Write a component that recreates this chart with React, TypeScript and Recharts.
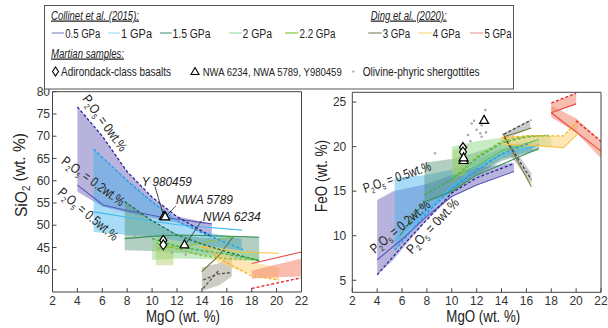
import React from 'react'
import { ComposedChart, Area, Line, Scatter, XAxis, YAxis, ReferenceLine } from 'recharts'

const FONT = "'Liberation Sans Narrow', 'Arial Narrow', 'Liberation Sans', Arial, sans-serif"

const mgoTicks = [2, 4, 6, 8, 10, 12, 14, 16, 18, 20, 22]
const sio2Ticks = [40, 45, 50, 55, 60, 65, 70, 75, 80]
const feoTicks = [5, 10, 15, 20, 25]

const legendLabels = ['0.5 GPa', '1 GPa', '1.5 GPa', '2 GPa', '2.2 GPa', '3 GPa', '4 GPa', '5 GPa']

// ---- SiO2 vs MgO ----
const si05Band = [
  { x: 4, r: [57.5, 76.6] }, { x: 6, r: [54.2, 70] }, { x: 8, r: [52.8, 62] },
  { x: 10, r: [51.6, 56.3] }, { x: 12, r: [50.6, 52] }, { x: 14.8, r: [47.4, 50.3] },
]
const si05Dash = [{ x: 4, y: 76.6 }, { x: 6, y: 70 }, { x: 8, y: 62 }, { x: 10, y: 56.3 }, { x: 12, y: 51.9 }, { x: 14.8, y: 47.4 }]
const si05Solid = [{ x: 4, y: 59 }, { x: 6.1, y: 54.5 }, { x: 8, y: 53.3 }, { x: 10.6, y: 51.9 }, { x: 14.8, y: 50.3 }]

const si1Band = [
  { x: 5.3, r: [48.5, 67.1] }, { x: 8, r: [47.8, 60.2] }, { x: 10, r: [47.5, 55.5] },
  { x: 12, r: [46.5, 51.2] }, { x: 14, r: [45.5, 48.6] }, { x: 17.2, r: [44.3, 47] },
]
const si1Dash = [{ x: 5.3, y: 67.1 }, { x: 8, y: 60 }, { x: 10, y: 55.2 }, { x: 12, y: 51 }, { x: 14, y: 48.3 }, { x: 17.3, y: 44.5 }]
const si1Solid = [{ x: 5.3, y: 53 }, { x: 8, y: 51.8 }, { x: 12, y: 50.1 }, { x: 17.2, y: 48.9 }]

const si15Band = [
  { x: 7.8, r: [44.4, 55.3] }, { x: 10, r: [44.2, 51] }, { x: 12, r: [43.8, 48] },
  { x: 14, r: [43.3, 47.2] }, { x: 16, r: [42.8, 47.2] }, { x: 18.6, r: [42, 47.3] },
]
const si15Dash = [{ x: 7.8, y: 55.3 }, { x: 10, y: 51 }, { x: 12, y: 47.8 }, { x: 14, y: 45.8 }, { x: 16, y: 44 }, { x: 18.6, y: 42 }]
const si15Solid = [{ x: 7.8, y: 47 }, { x: 10, y: 47.5 }, { x: 12, y: 47.8 }, { x: 15, y: 47.6 }, { x: 18.6, y: 47.3 }]

const si2Band = [
  { x: 10, r: [42.2, 47.2] }, { x: 12, r: [42.5, 46.5] }, { x: 14, r: [42.4, 45.5] },
  { x: 16, r: [42.2, 44.5] }, { x: 18.6, r: [41.8, 44] },
]
const si2Dash = [{ x: 10, y: 47 }, { x: 12, y: 45.3 }, { x: 14, y: 44.3 }, { x: 16, y: 43.5 }, { x: 18.6, y: 42.2 }]

const si22Band = [{ x: 10.3, r: [41, 45.5] }, { x: 11.7, r: [41, 45] }]
const si22Dash = [{ x: 10.3, y: 46 }, { x: 12, y: 44.7 }, { x: 14, y: 43.2 }, { x: 16, y: 42.5 }, { x: 18.5, y: 42.2 }]
const si22Solid = [{ x: 10.4, y: 44.8 }, { x: 13, y: 45.5 }, { x: 16.5, y: 47.4 }]

const si3Band = [{ x: 14, r: [35.2, 40.5] }, { x: 15.4, r: [36.5, 41.5] }, { x: 16.4, r: [38.5, 43] }]
const si3Dash = [{ x: 14.1, y: 37.7 }, { x: 15.2, y: 39 }, { x: 16.4, y: 39.4 }]
const si3Dash2 = [{ x: 14.1, y: 35.8 }, { x: 15.4, y: 40 }]
const si3Solid = [{ x: 14, y: 39.6 }, { x: 15.3, y: 43 }, { x: 16.5, y: 47.4 }]

const si4Band = [{ x: 15, r: [42, 44.5] }, { x: 17, r: [39.8, 42.3] }, { x: 20.2, r: [37.5, 40.5] }]
const si4Dash = [{ x: 14, y: 45.3 }, { x: 16, y: 41.6 }, { x: 18, y: 38.6 }, { x: 20.2, y: 37.7 }]
const si4Solid = [{ x: 13.9, y: 45.2 }, { x: 17, y: 44 }, { x: 20.2, y: 43.7 }]

const si5Band = [{ x: 18, r: [38, 39.8] }, { x: 20, r: [38.3, 41.2] }, { x: 22, r: [38.5, 42.5] }]
const si5Dash = [{ x: 18, y: 35.8 }, { x: 22, y: 38.2 }]
const si5Solid = [{ x: 18, y: 41.4 }, { x: 22, y: 44 }]

const adirondackSi = [{ x: 10.9, y: 46.6 }, { x: 10.9, y: 45.6 }]
const nwaSi = [{ x: 10.95, y: 52.1 }, { x: 11.05, y: 52 }, { x: 12.6, y: 45.7 }]
const shergSi = [{ x: 8.6, y: 47.6 }, { x: 11.6, y: 43.8 }, { x: 12.7, y: 43.4 }]
const pointersSi = [
  [{ x: 10.23, y: 58.7 }, { x: 10.9, y: 52.4 }],
  [{ x: 11.9, y: 54.3 }, { x: 11.17, y: 52.2 }],
  [{ x: 13.98, y: 51.0 }, { x: 12.78, y: 46.1 }],
]

// ---- FeO vs MgO ----
const fe05Band = [
  { x: 4, r: [5.6, 14] }, { x: 5.3, r: [7.3, 15] }, { x: 8, r: [11.8, 15.8] },
  { x: 10, r: [14.4, 16.8] }, { x: 12, r: [15.7, 17.6] }, { x: 15, r: [17.2, 18.2] },
]
const fe05Dash = [{ x: 4, y: 5.6 }, { x: 6, y: 8.8 }, { x: 8, y: 11.8 }, { x: 10, y: 14.8 }, { x: 12, y: 16.5 }, { x: 15, y: 18.1 }]
const fe05Solid = [{ x: 4, y: 7.3 }, { x: 6, y: 9.6 }, { x: 8, y: 12.2 }, { x: 10, y: 14.4 }, { x: 12, y: 15.7 }, { x: 15, y: 17.2 }]

const fe1Band = [
  { x: 5.4, r: [8.4, 16.5] }, { x: 7.8, r: [12, 16.8] }, { x: 10, r: [15, 17.4] },
  { x: 12, r: [16.8, 18.6] }, { x: 14, r: [18.6, 19.8] }, { x: 16.5, r: [19.5, 20.5] },
]
const fe1Dash = [{ x: 5.4, y: 8.4 }, { x: 6, y: 9.3 }, { x: 8, y: 12.6 }, { x: 10, y: 15.3 }, { x: 12, y: 17.3 }, { x: 14, y: 19.2 }, { x: 16.3, y: 20.4 }]
const fe1Solid = [{ x: 5.4, y: 9.4 }, { x: 8, y: 12.9 }, { x: 10, y: 15.5 }, { x: 12, y: 17.7 }, { x: 14, y: 19.1 }, { x: 17, y: 20.2 }]

const fe15Band = [
  { x: 7.8, r: [13.6, 18.2] }, { x: 10, r: [14.8, 18.6] }, { x: 12, r: [16.8, 19.4] },
  { x: 14, r: [18.4, 20.2] }, { x: 17, r: [19.6, 20.6] },
]
const fe15Solid = [{ x: 5.8, y: 10 }, { x: 7.8, y: 13.8 }, { x: 10, y: 15 }, { x: 12, y: 16.8 }, { x: 14, y: 18 }, { x: 17, y: 19.8 }]

const fe2Band = [
  { x: 10, r: [16.8, 20] }, { x: 12, r: [17.8, 20.6] }, { x: 14, r: [19.2, 21] },
  { x: 16.5, r: [20, 21.3] }, { x: 18, r: [20, 21.2] },
]
const fe2Dash = [{ x: 7.8, y: 14.6 }, { x: 10, y: 16.3 }, { x: 12, y: 18.7 }, { x: 14, y: 20.4 }, { x: 16, y: 21.1 }, { x: 17.8, y: 21.3 }]
const fe2Solid = [{ x: 10, y: 16.6 }, { x: 12, y: 17.8 }, { x: 14, y: 19.5 }, { x: 17, y: 20.8 }]

const fe22Band = [{ x: 10.1, r: [16.6, 19.6] }, { x: 11.2, r: [16.8, 20] }]
const fe22Dash = [{ x: 10, y: 16 }, { x: 12, y: 18.9 }, { x: 14, y: 20.6 }, { x: 16, y: 21.2 }, { x: 18, y: 21.2 }]

const fe3BandA = [{ x: 14.2, r: [20.8, 21.5] }, { x: 16.3, r: [22, 23] }]
const fe3BandB = [{ x: 14.6, r: [19.2, 20.6] }, { x: 16.4, r: [15.8, 17] }]
const fe3DashA = [{ x: 14.2, y: 21.4 }, { x: 16.4, y: 23 }]
const fe3DashB = [{ x: 14.2, y: 21.1 }, { x: 16.4, y: 16.3 }]
const fe3SolidA = [{ x: 14.2, y: 21.1 }, { x: 16.4, y: 22.1 }]
const fe3SolidB = [{ x: 14.1, y: 21.5 }, { x: 16.4, y: 15.5 }]

const fe4Band = [{ x: 14, r: [20.3, 21.1] }, { x: 17, r: [20, 21.2] }, { x: 19, r: [19.8, 21.2] }, { x: 20.1, r: [21.5, 22.9] }]
const fe4Dash = [{ x: 14, y: 21 }, { x: 16, y: 21.2 }, { x: 19, y: 21.2 }, { x: 20.1, y: 22.9 }]
const fe4Solid = [{ x: 14, y: 20.3 }, { x: 17, y: 20.1 }, { x: 19, y: 19.9 }, { x: 20.1, y: 21.4 }]

const fe5BandTop = [{ x: 18, r: [23.8, 24.9] }, { x: 20, r: [24.8, 26] }]
const fe5BandDiag = [{ x: 18, r: [23.3, 24.6] }, { x: 20, r: [21.6, 23.2] }, { x: 22, r: [18.7, 20.7] }]
const fe5DashTop = [{ x: 18, y: 24.9 }, { x: 20, y: 26 }]
const fe5DashDiag = [{ x: 20, y: 22.9 }, { x: 22, y: 20.6 }]
const fe5SolidTop = [{ x: 18, y: 23.8 }, { x: 20, y: 24.8 }]
const fe5SolidDiag = [{ x: 18, y: 23.8 }, { x: 22, y: 19.5 }]

const adirondackFe = [{ x: 10.9, y: 19.9 }, { x: 10.9, y: 19.4 }]
const nwaFe = [{ x: 10.95, y: 18.5 }, { x: 10.95, y: 18.8 }, { x: 12.6, y: 23 }]
const shergFe = [
  { x: 8.65, y: 19.25 }, { x: 11.6, y: 22.6 }, { x: 11.8, y: 22.9 }, { x: 12, y: 21.9 },
  { x: 12.3, y: 21.5 }, { x: 12.75, y: 21.6 }, { x: 12.4, y: 21.1 }, { x: 11.5, y: 20.6 },
  { x: 11.2, y: 20 }, { x: 12.7, y: 24.1 }, { x: 12.4, y: 22.4 }, { x: 11.3, y: 21.3 },
]

const S: Record<string, { fill: string; op: number; dash: string; line: string }> = {
  p05: { fill: '#8c84c6', op: 0.62, dash: '#25259a', line: '#5656b8' },
  p1: { fill: '#3fb2ec', op: 0.45, dash: '#1a9ee6', line: '#45b9f0' },
  p15: { fill: '#4a8c6c', op: 0.42, dash: '#1d6e3e', line: '#35955a' },
  p2: { fill: '#90d888', op: 0.5, dash: '#35b043', line: '#5cc262' },
  p22: { fill: '#a8cc60', op: 0.45, dash: '#86bd2c', line: '#8cc43a' },
  p3: { fill: '#9c9c8c', op: 0.5, dash: '#55554a', line: '#707a34' },
  p3g: { fill: '#9a9a9a', op: 0.5, dash: '#444444', line: '#707a34' },
  p4: { fill: '#ffd27a', op: 0.55, dash: '#f7b21c', line: '#f8c244' },
  p5: { fill: '#f2866e', op: 0.55, dash: '#e51e1e', line: '#eb4747' },
}
const legendColors = ['#9096d6', '#a6e2f2', '#62a88c', '#a4e0ae', '#8fc84e', '#8c9670', '#f9d98e', '#f5a6a6']

const diamond = (p: any) => (
  <polygon points={`${p.cx},${p.cy - 5} ${p.cx + 3.5},${p.cy} ${p.cx},${p.cy + 5} ${p.cx - 3.5},${p.cy}`} fill="#fff" stroke="#000" strokeWidth={1.2} />
)
const triangle = (p: any) => (
  <polygon points={`${p.cx},${p.cy - 4.5} ${p.cx + 4.5},${p.cy + 3.5} ${p.cx - 4.5},${p.cy + 3.5}`} fill="#fff" stroke="#000" strokeWidth={1.2} />
)
const dot = (p: any) => <circle cx={p.cx} cy={p.cy} r={1.3} fill="#aaaaaa" />

type Panel = {
  width: number
  margin: { top: number; right: number; bottom: number; left: number }
  yDomain: [number, number]
  yTicks: number[]
  yTickMargin: number
  bands: [any[], string][]
  dashed: [any[], string][]
  solid: [any[], string][]
  diamonds: any[]
  triangles: any[]
  dots: any[]
  pointers?: any[][]
}

const axisStyle = { stroke: '#444' }
const tickStyle = { fontSize: 12, fill: '#333', fontFamily: FONT }

const Plot = (p: Panel) => (
  <ComposedChart width={p.width} height={328} margin={p.margin}>
    <XAxis xAxisId={0} dataKey="x" type="number" domain={[2, 22]} ticks={mgoTicks} allowDataOverflow
      tickSize={-4} tickMargin={8} height={20} axisLine={axisStyle} tickLine={axisStyle} tick={tickStyle} />
    <XAxis xAxisId="top" orientation="top" type="number" domain={[2, 22]} ticks={mgoTicks} allowDataOverflow
      tickSize={-4} height={1} axisLine={axisStyle} tickLine={axisStyle} tick={false} />
    <YAxis yAxisId={0} type="number" domain={p.yDomain} ticks={p.yTicks} allowDataOverflow
      tickSize={-4} tickMargin={p.yTickMargin} width={40} axisLine={axisStyle} tickLine={axisStyle} tick={tickStyle} />
    <YAxis yAxisId="right" orientation="right" type="number" domain={p.yDomain} ticks={p.yTicks} allowDataOverflow
      tickSize={-4} width={1} axisLine={axisStyle} tickLine={axisStyle} tick={false} />
    {p.bands.map(([d, k], i) => (
      <Area key={'b' + i} data={d} dataKey="r" type="linear" stroke="none" fill={S[k].fill} fillOpacity={S[k].op}
        dot={false} activeDot={false} isAnimationActive={false} />
    ))}
    {p.solid.map(([d, k], i) => (
      <Line key={'s' + i} data={d} dataKey="y" type="linear" stroke={S[k].line} strokeWidth={1.1}
        dot={false} activeDot={false} isAnimationActive={false} />
    ))}
    {p.dashed.map(([d, k], i) => (
      <Line key={'d' + i} data={d} dataKey="y" type="linear" stroke={S[k].dash} strokeWidth={1.3} strokeDasharray="3 2"
        dot={false} activeDot={false} isAnimationActive={false} />
    ))}
    {(p.pointers || []).map((seg, i) => (
      <ReferenceLine key={'p' + i} segment={seg} stroke="#333" strokeWidth={0.9} />
    ))}
    <Scatter data={p.dots} dataKey="y" shape={dot} isAnimationActive={false} />
    <Scatter data={p.diamonds} dataKey="y" shape={diamond} isAnimationActive={false} />
    <Scatter data={p.triangles} dataKey="y" shape={triangle} isAnimationActive={false} />
  </ComposedChart>
)

const Sub = ({ t }: { t: string }) => <tspan fontSize="0.62em" dy="0.3em">{t}</tspan>

const P2O5 = ({ cx, cy, a, len, v }: { cx: number; cy: number; a: number; len: number; v: string }) => (
  <text transform={`translate(${cx},${cy}) rotate(${a})`} textAnchor="middle" fontSize={13.5} fill="#222"
    textLength={len} lengthAdjust="spacingAndGlyphs">
    <tspan dy="0.35em">P</tspan><tspan fontSize={8} dy={3}>2</tspan><tspan dy={-3}>O</tspan>
    <tspan fontSize={8} dy={3}>5</tspan><tspan dy={-3}>{` = ${v}wt.%`}</tspan>
  </text>
)

const legendPos = [
  [51.7, 64, 65.3, 35], [108.3, 120, 121, 31], [160, 171.7, 172.5, 38], [229.3, 241.7, 242.5, 29.5],
  [285, 298.3, 299.5, 36], [368.3, 381.7, 382.7, 27.5], [418.3, 431.7, 432.7, 27.5], [470, 483.3, 484.5, 27],
]

const Overlay = () => (
  <svg width={608} height={328} style={{ position: 'absolute', left: 0, top: 0, pointerEvents: 'none' }} fontFamily={FONT}>
    <rect x={44.5} y={5.5} width={469} height={83.5} fill="#fff" stroke="#555" strokeWidth={1} />
    <g fontSize={12.5} fill="#222">
      <text x={51} y={19.5} fontStyle="italic" textDecoration="underline" textLength={88} lengthAdjust="spacingAndGlyphs">Collinet et al. (2015):</text>
      <text x={370.7} y={19.5} fontStyle="italic" textDecoration="underline" textLength={76} lengthAdjust="spacingAndGlyphs">Ding et al. (2020):</text>
      {legendLabels.map((l, i) => (
        <g key={l}>
          <line x1={legendPos[i][0]} x2={legendPos[i][1]} y1={33} y2={33} stroke={legendColors[i]} strokeWidth={1.3} />
          <text x={legendPos[i][2]} y={37.5} textLength={legendPos[i][3]} lengthAdjust="spacingAndGlyphs">{l}</text>
        </g>
      ))}
      <text x={51} y={57.5} fontStyle="italic" textDecoration="underline" textLength={73} lengthAdjust="spacingAndGlyphs">Martian samples:</text>
      <polygon points="55.5,67 58.5,71.5 55.5,76 52.5,71.5" fill="#fff" stroke="#000" strokeWidth={1.1} />
      <text x={61} y={75.5} textLength={110} lengthAdjust="spacingAndGlyphs">Adirondack-class basalts</text>
      <polygon points="195,67.5 199,74.5 191,74.5" fill="#fff" stroke="#000" strokeWidth={1.1} />
      <text x={202.7} y={75.5} fontSize={11} textLength={139} lengthAdjust="spacingAndGlyphs">NWA 6234, NWA 5789, Y980459</text>
      <circle cx={353.3} cy={71.5} r={1.3} fill="#bbb" />
      <text x={362.7} y={75.5} textLength={117} lengthAdjust="spacingAndGlyphs">Olivine-phyric shergottites</text>
    </g>
    <g fill="#222">
      <text transform="translate(27,175) rotate(-90)" textAnchor="middle" fontSize={17} textLength={84} lengthAdjust="spacingAndGlyphs">
        SiO<Sub t="2" /><tspan dy="-0.3em">{' (wt. %)'}</tspan>
      </text>
      <text transform="translate(327,176) rotate(-90)" textAnchor="middle" fontSize={17} textLength={72} lengthAdjust="spacingAndGlyphs">FeO (wt. %)</text>
      <text x={183} y={322} textAnchor="middle" fontSize={17} textLength={74} lengthAdjust="spacingAndGlyphs">MgO (wt. %)</text>
      <text x={483.3} y={322} textAnchor="middle" fontSize={17} textLength={74} lengthAdjust="spacingAndGlyphs">MgO (wt. %)</text>
      <P2O5 cx={105} cy={123} a={54} len={66} v="0" />
      <P2O5 cx={93.3} cy={181} a={36} len={74} v="0.2" />
      <P2O5 cx={88.3} cy={214} a={40} len={74} v="0.5" />
      <P2O5 cx={397} cy={177} a={-19} len={71} v="0.5" />
      <P2O5 cx={400} cy={226.5} a={-40} len={74} v="0.2" />
      <P2O5 cx={432.5} cy={225.8} a={-47} len={70} v="0" />
      <g fontStyle="italic" fontSize={13.5}>
        <text x={141.7} y={186} textLength={50} lengthAdjust="spacingAndGlyphs">Y 980459</text>
        <text x={176} y={204} textLength={57} lengthAdjust="spacingAndGlyphs">NWA 5789</text>
        <text x={202.7} y={220.5} textLength={58} lengthAdjust="spacingAndGlyphs">NWA 6234</text>
      </g>
    </g>
  </svg>
)

export default function App() {
  return (
    <div style={{ position: 'absolute', left: 0, top: 0, width: 608, height: 328, background: '#fff', fontFamily: FONT }}>
      <div style={{ position: 'absolute', left: 0, top: 0 }}>
        <Plot
          width={310}
          margin={{ top: 90.7, right: 7.5, bottom: 16, left: 12.5 }}
          yDomain={[35, 80]}
          yTicks={sio2Ticks}
          yTickMargin={6.5}
          bands={[[si05Band, 'p05'], [si1Band, 'p1'], [si15Band, 'p15'], [si2Band, 'p2'], [si22Band, 'p22'], [si3Band, 'p3'], [si4Band, 'p4'], [si5Band, 'p5']]}
          solid={[[si05Solid, 'p05'], [si1Solid, 'p1'], [si15Solid, 'p15'], [si22Solid, 'p22'], [si3Solid, 'p3'], [si4Solid, 'p4'], [si5Solid, 'p5']]}
          dashed={[[si05Dash, 'p05'], [si1Dash, 'p1'], [si15Dash, 'p15'], [si2Dash, 'p2'], [si22Dash, 'p22'], [si3Dash, 'p3'], [si3Dash2, 'p3'], [si4Dash, 'p4'], [si5Dash, 'p5']]}
          diamonds={adirondackSi}
          triangles={nwaSi}
          dots={shergSi}
          pointers={pointersSi}
        />
      </div>
      <div style={{ position: 'absolute', left: 310, top: 0 }}>
        <Plot
          width={298}
          margin={{ top: 91.3, right: 6, bottom: 15.7, left: 2.3 }}
          yDomain={[3.65, 26.1]}
          yTicks={feoTicks}
          yTickMargin={10}
          bands={[[fe05Band, 'p05'], [fe1Band, 'p1'], [fe15Band, 'p15'], [fe2Band, 'p2'], [fe22Band, 'p22'], [fe3BandA, 'p3g'], [fe3BandB, 'p3g'], [fe4Band, 'p4'], [fe5BandTop, 'p5'], [fe5BandDiag, 'p5']]}
          solid={[[fe05Solid, 'p05'], [fe1Solid, 'p1'], [fe15Solid, 'p15'], [fe2Solid, 'p2'], [fe3SolidA, 'p3'], [fe3SolidB, 'p3'], [fe4Solid, 'p4'], [fe5SolidTop, 'p5'], [fe5SolidDiag, 'p5']]}
          dashed={[[fe05Dash, 'p05'], [fe1Dash, 'p1'], [fe2Dash, 'p2'], [fe22Dash, 'p22'], [fe3DashA, 'p3g'], [fe3DashB, 'p3g'], [fe4Dash, 'p4'], [fe5DashTop, 'p5'], [fe5DashDiag, 'p5']]}
          diamonds={adirondackFe}
          triangles={nwaFe}
          dots={shergFe}
        />
      </div>
      <Overlay />
    </div>
  )
}
